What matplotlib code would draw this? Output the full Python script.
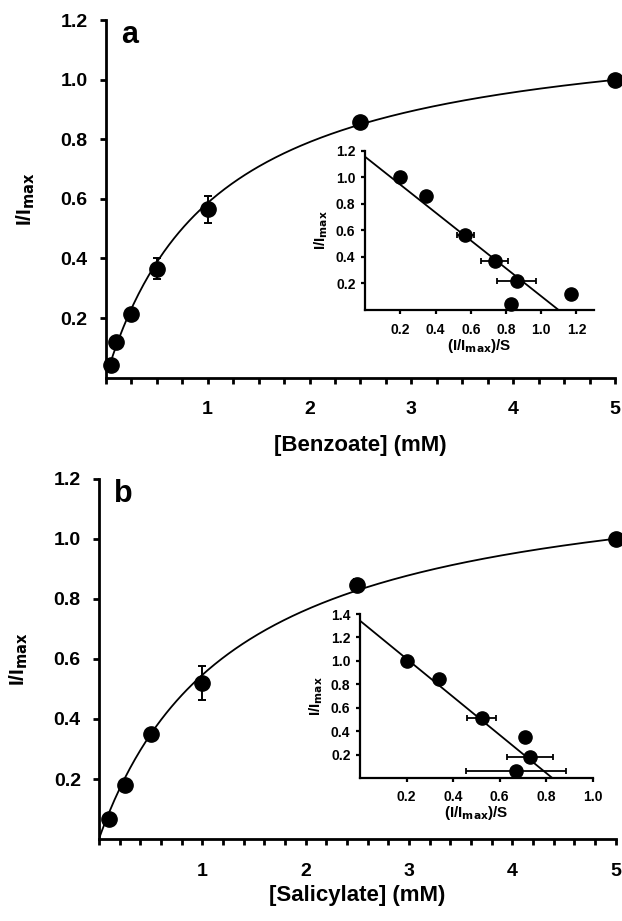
import numpy as np
import matplotlib; matplotlib.use('Agg')
import matplotlib.pyplot as plt
from matplotlib.ticker import MultipleLocator

plt.rcParams['font.family'] = ['Liberation Sans', 'DejaVu Sans']
plt.rcParams['font.weight'] = 'bold'
plt.rcParams['mathtext.default'] = 'bf'

# ---- panel a: benzoate ----
benz_conc = [0.05, 0.1, 0.25, 0.5, 1.0, 2.5, 5.0]
benz_resp = [0.044, 0.118, 0.215, 0.366, 0.565, 0.858, 1.0]
benz_err = [0, 0, 0, 0.035, 0.045, 0, 0]
benz_km, benz_vmax = 1.07, 1.214

# inset a (Eadie-Hofstee)
benz_eh_x = [0.2, 0.345, 0.57, 0.735, 0.86, 0.83, 1.17]
benz_eh_y = [1.0, 0.86, 0.565, 0.37, 0.215, 0.046, 0.12]
benz_eh_xerr = [0, 0, 0.05, 0.075, 0.11, 0, 0]
benz_eh_icpt, benz_eh_slope = 1.154, -1.05

# ---- panel b: salicylate ----
sal_conc = [0.1, 0.25, 0.5, 1.0, 2.5, 5.0]
sal_resp = [0.067, 0.18, 0.35, 0.52, 0.847, 1.0]
sal_err = [0, 0, 0, 0.058, 0.02, 0]
sal_km, sal_vmax = 1.31, 1.263

sal_eh_x = [0.2, 0.337, 0.523, 0.71, 0.731, 0.67]
sal_eh_y = [1.0, 0.844, 0.516, 0.35, 0.178, 0.062]
sal_eh_xerr = [0, 0, 0.062, 0, 0.10, 0.215]
sal_eh_icpt, sal_eh_slope = 1.342, -1.625


def style(ax, lw, ticklen):
    for s in ['top', 'right']:
        ax.spines[s].set_visible(False)
    for s in ['left', 'bottom']:
        ax.spines[s].set_linewidth(lw)
    ax.tick_params(which='both', direction='out', width=lw, length=ticklen)


def main_panel(ax, conc, resp, err, km, vmax, x0, minor, label, xlab, xpad):
    s = np.linspace(x0, 5, 300)
    ax.plot(s, vmax * s / (km + s), color='k', lw=1.3)
    ax.errorbar(conc, resp, yerr=err, fmt='o', color='k', ms=11,
                capsize=3, elinewidth=1.4, capthick=1.4, zorder=3, clip_on=False)
    ax.set_xlim(0, 5)
    ax.set_ylim(0, 1.2)
    ax.set_xticks([1, 2, 3, 4, 5])
    ax.xaxis.set_minor_locator(MultipleLocator(minor))
    ax.set_yticks([0.2, 0.4, 0.6, 0.8, 1.0, 1.2])
    ax.set_yticklabels(['0.2', '0.4', '0.6', '0.8', '1.0', '1.2'])
    style(ax, 2.0, 4)
    ax.tick_params(axis='both', labelsize=14)
    ax.tick_params(axis='x', which='both', pad=13)
    ax.tick_params(axis='y', pad=9)
    ax.set_xlabel(xlab, fontsize=16, fontweight='bold', labelpad=xpad)
    ax.set_ylabel(r'I/I$_{\mathbf{max}}$', fontsize=15, fontweight='bold', labelpad=17)
    ax.text(0.03, 1.0, label, transform=ax.transAxes, fontsize=22,
            fontweight='bold', va='top', ha='left')


def inset_panel(ax, x, y, xerr, icpt, slope, xmax, ymax, xticks, yticks):
    xi = -icpt / slope
    xx = np.linspace(0, xi, 50)
    ax.plot(xx, icpt + slope * xx, color='k', lw=1.3)
    ax.errorbar(x, y, xerr=xerr, fmt='o', color='k', ms=9.5,
                capsize=2.5, elinewidth=1.3, capthick=1.3, zorder=3, clip_on=False)
    ax.set_xlim(0, xmax)
    ax.set_ylim(0, ymax)
    ax.set_xticks(xticks)
    ax.set_xticklabels([f'{v:.1f}' for v in xticks])
    ax.set_yticks(yticks)
    ax.set_yticklabels([f'{v:.1f}' for v in yticks])
    style(ax, 1.6, 3)
    ax.tick_params(axis='both', labelsize=10)
    ax.tick_params(axis='x', pad=6)
    ax.tick_params(axis='y', pad=4)
    ax.set_xlabel(r'(I/I$_{\mathbf{max}}$)/S', fontsize=11, fontweight='bold', labelpad=0)
    ax.set_ylabel(r'I/I$_{\mathbf{max}}$', fontsize=11, fontweight='bold', labelpad=4)
    ax.patch.set_alpha(0)


fig = plt.figure(figsize=(6.22, 9.21), dpi=100)

ax_a = fig.add_axes([0.170, 0.590, 0.819, 0.388])
main_panel(ax_a, benz_conc, benz_resp, benz_err, benz_km, benz_vmax, 0.04, 0.25,
           'a', '[Benzoate] (mM)', 12)
ins_a = fig.add_axes([0.587, 0.6634, 0.368, 0.173])
inset_panel(ins_a, benz_eh_x, benz_eh_y, benz_eh_xerr, benz_eh_icpt, benz_eh_slope,
            1.3, 1.2, [0.2, 0.4, 0.6, 0.8, 1.0, 1.2], [0.2, 0.4, 0.6, 0.8, 1.0, 1.2])

ax_b = fig.add_axes([0.159, 0.089, 0.831, 0.391])
main_panel(ax_b, sal_conc, sal_resp, sal_err, sal_km, sal_vmax, 0.0, 0.2,
           'b', '[Salicylate] (mM)', 4)
ins_b = fig.add_axes([0.579, 0.1553, 0.374, 0.178])
inset_panel(ins_b, sal_eh_x, sal_eh_y, sal_eh_xerr, sal_eh_icpt, sal_eh_slope,
            1.0, 1.4, [0.2, 0.4, 0.6, 0.8, 1.0], [0.2, 0.4, 0.6, 0.8, 1.0, 1.2, 1.4])

fig.savefig('out.png', dpi=100)
